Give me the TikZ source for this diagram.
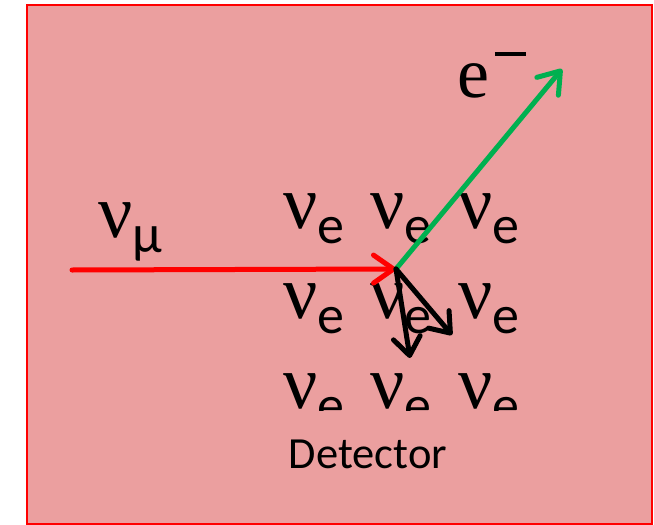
\documentclass[tikz,border=0pt]{standalone}
\usepackage{fontspec}
\setmainfont{Carlito}
\newfontfamily\serifgreek{Liberation Serif}
\usetikzlibrary{arrows.meta}

\definecolor{detfill}{RGB}{235,159,159}
\definecolor{detred}{RGB}{255,0,0}
\definecolor{elgreen}{RGB}{0,176,80}

% neutrino label with a lowered flavour letter
\newcommand{\nuflav}[1]{{\serifgreek\fontsize{76}{76}\selectfont ν}\raisebox{-15pt}{\fontsize{54}{54}\selectfont #1}}

\begin{document}
\begin{tikzpicture}[
        x=1pt, y=-1pt,
        txt/.style={inner sep=0pt, outer sep=0pt, anchor=base west},
        beam/.style={line width=5pt, line cap=round,
                     -{Straight Barb[length=20pt, width=28pt, round]}},
        recoil/.style={line width=5pt, line cap=round, black,
                       -{Straight Barb[length=18pt, width=27pt, round]}}
    ]
        \useasboundingbox (0,0) rectangle (654,525);

        %--- Detector volume ---
        \node[draw=detred, line width=2pt, fill=detfill, inner sep=0pt,
              minimum width=625pt, minimum height=519pt, anchor=north west]
              (det) at (26,4) {};

        %--- Electron neutrinos (bottom row cut off) ---
        \begin{scope}
            \clip (0,0) rectangle (654,410);
            \foreach \r/\yb in {1/228, 2/318, 3/408} {
                \foreach \c/\xl in {1/283, 2/370, 3/458} {
                    \node[txt] (nue\r\c) at (\xl,\yb) {\nuflav{e}};
                }
            }
        \end{scope}

        %--- Labels ---
        \node[txt] (numu) at (98,237) {\nuflav{μ}};
        \node[txt] (elec) at (457,97) {\serifgreek\fontsize{72}{72}\selectfont e\hspace{6pt}\raisebox{41pt}{\rule{31pt}{4.5pt}}};
        \node[anchor=base, inner sep=0pt] (dlabel) at (368,468) {\fontsize{44.5}{44.5}\selectfont Detector};

        %--- Interaction vertex and track ends ---
        \coordinate (src) at (72,270);
        \coordinate (vtx) at (396,269);
        \coordinate (etip) at (562,69);
        \coordinate (r1) at (410,358);
        \coordinate (r2) at (452,335);

        %--- Arrows ---
        \draw[beam, detred] (src) -- (vtx);
        \draw[beam, elgreen] (vtx) -- (etip);
        \draw[recoil] (vtx) -- (r1);
        \draw[recoil] (vtx) -- (r2);
    \end{tikzpicture}
\end{document}
